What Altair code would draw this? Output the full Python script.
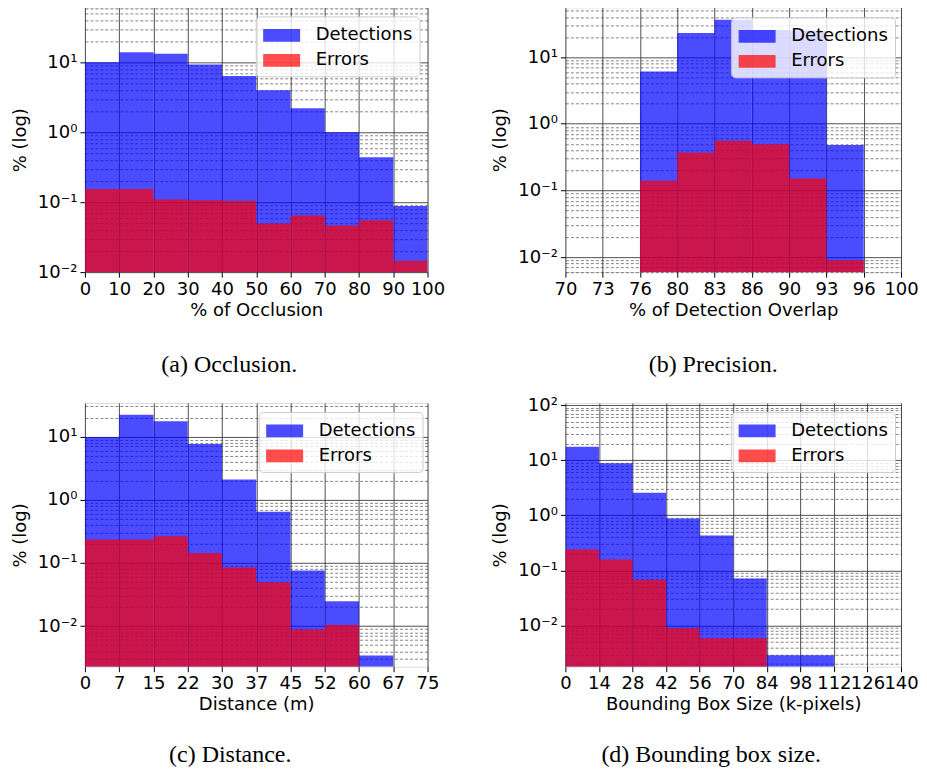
import altair as alt
import pandas as pd

FONT = "DejaVu Sans"
SERIF = "Liberation Serif"
BLUE = "#0000ff"
RED = "#ff0000"
SERIES = ["Detections", "Errors"]

# (a) Occlusion
occ_edges = [0, 10, 20, 30, 40, 50, 60, 70, 80, 90, 100]
occ_labels = ["0", "10", "20", "30", "40", "50", "60", "70", "80", "90", "100"]
occ_det = [10.0, 13.9, 13.3, 9.3, 6.4, 4.0, 2.2, 1.0, 0.44, 0.088]
occ_err = [0.155, 0.155, 0.109, 0.107, 0.105, 0.0496, 0.0645, 0.0464, 0.0553, 0.0145]

# (b) Precision
prec_edges = [70, 73.333, 76.667, 80, 83.333, 86.667, 90, 93.333, 96.667, 100]
prec_labels = ["70", "73", "76", "80", "83", "86", "90", "93", "96", "100"]
prec_det = [None, None, 6.1, 22.9, 36.3, 25.5, 25.0, 0.48, None]
prec_err = [None, None, 0.14, 0.37, 0.556, 0.495, 0.151, 0.009, None]

# (c) Distance
dist_edges = [0, 7.5, 15, 22.5, 30, 37.5, 45, 52.5, 60, 67.5, 75]
dist_labels = ["0", "7", "15", "22", "30", "37", "45", "52", "60", "67", "75"]
dist_det = [9.8, 22.2, 17.5, 7.66, 2.09, 0.647, 0.0757, 0.0248, 0.00344, None]
dist_err = [0.236, 0.236, 0.264, 0.144, 0.0844, 0.0495, 0.00886, 0.0104, None, None]

# (d) Bounding box size
bbox_edges = [0, 14, 28, 42, 56, 70, 84, 98, 112, 126, 140]
bbox_labels = ["0", "14", "28", "42", "56", "70", "84", "98", "112", "126", "140"]
bbox_det = [17.5, 8.8, 2.55, 0.87, 0.43, 0.0715, 0.0029, 0.0029, None, None]
bbox_err = [0.24, 0.158, 0.0676, 0.0089, 0.00587, 0.00587, None, None, None, None]

y_major = [0.01, 0.1, 1, 10, 100]
y_major_labels = ["10\u207b\u00b2", "10\u207b\u00b9", "10\u2070", "10\u00b9", "10\u00b2"]

# legend patch: wide rectangle, left edge on the symbol box
LEGEND_PATH = "M-1,-0.55H2.2V0.55H-1Z"


def label_expr(values, labels, tol):
    expr = "''"
    for v, l in zip(values, labels):
        expr = f"abs(datum.value - {v}) < {tol * max(abs(v), 1e-9)} ? '{l}' : ({expr})"
    return expr


def panel(edges, tick_labels, det, err, xtitle, ydom, caption, lx, ly, w, h, cap_dx, cap_off):
    rows = []
    for name, vals in zip(SERIES, [det, err]):
        for i, v in enumerate(vals):
            if v is not None:
                rows.append({"x0": edges[i], "x1": edges[i + 1], "v": v, "s": name})
    df = pd.DataFrame(rows)

    yticks = []
    k = -3
    while 10 ** k <= ydom[1] * 1.0001:
        for m in range(1, 10):
            t = m * 10 ** k
            if ydom[0] * 0.9999 <= t <= ydom[1] * 1.0001:
                yticks.append(round(t, 6))
        k += 1

    is_major = "abs(log(datum.value)/LN10 - round(log(datum.value)/LN10)) < 0.01"

    xaxis = alt.Axis(
        values=edges,
        labelExpr=label_expr(edges, tick_labels, 1e-4),
        title=xtitle,
        grid=True, gridColor="#333333", gridWidth=1, gridOpacity=0.85,
        labelFont=FONT, labelFontSize=18, labelColor="black",
        titleFont=FONT, titleFontSize=18, titleFontWeight="normal", titleColor="black",
        tickColor="black", tickSize=5, labelPadding=3, titlePadding=3,
        domain=False, labelFlush=False, labelOverlap=False,
    )
    yaxis = alt.Axis(
        values=yticks,
        labelExpr=label_expr(y_major, y_major_labels, 1e-3),
        title="% (log)",
        grid=True,
        gridColor="#333333",
        gridWidth={"condition": {"test": is_major, "value": 1}, "value": 0.8},
        gridDash={"condition": {"test": is_major, "value": []}, "value": [3, 2]},
        gridOpacity={"condition": {"test": is_major, "value": 0.85}, "value": 0.75},
        tickSize={"condition": {"test": is_major, "value": 5}, "value": 0},
        tickColor="black",
        labelFont=FONT, labelFontSize=18, labelColor="black",
        titleFont=FONT, titleFontSize=18, titleFontWeight="normal", titleColor="black",
        labelPadding=3, titlePadding=8, domain=False, labelOverlap=False, labelFlush=False,
    )

    legend = alt.Legend(
        title=None, orient="none", legendX=lx, legendY=ly, direction="vertical",
        symbolType=LEGEND_PATH, symbolSize=535, symbolOpacity=0.7, symbolStrokeWidth=0,
        labelFont=FONT, labelFontSize=18, labelColor="black", labelOffset=29,
        fillColor="rgba(255,255,255,0.8)", strokeColor="#cccccc", cornerRadius=4,
        padding=7, rowPadding=4,
    )

    chart = alt.Chart(df).mark_rect(opacity=0.7, clip=True).encode(
        x=alt.X("x0:Q", scale=alt.Scale(domain=[edges[0], edges[-1]], nice=False, zero=False), axis=xaxis),
        x2="x1:Q",
        y=alt.Y("v:Q", scale=alt.Scale(type="log", domain=ydom, nice=False), axis=yaxis),
        y2=alt.datum(ydom[0]),
        color=alt.Color("s:N", scale=alt.Scale(domain=SERIES, range=[BLUE, RED]), legend=legend),
    ).properties(
        width=w, height=h,
        title=alt.TitleParams(caption, orient="bottom", font=SERIF, fontSize=24,
                              fontWeight="normal", color="black", offset=cap_off, dx=cap_dx,
                              anchor="middle"),
    )
    return chart


a = panel(occ_edges, occ_labels, occ_det, occ_err, "% of Occlusion", [0.01, 61],
          "(a) Occlusion.", 171, 9, 343, 265, -27, 34)
b = panel(prec_edges, prec_labels, prec_det, prec_err, "% of Detection Overlap", [0.00596, 55.6],
          "(b) Precision.", 166, 10, 336, 265, -20, 34)
c = panel(dist_edges, dist_labels, dist_det, dist_err, "Distance (m)", [0.00228, 34],
          "(c) Distance.", 174, 9, 343, 264, -26, 29)
d = panel(bbox_edges, bbox_labels, bbox_det, bbox_err, "Bounding Box Size (k-pixels)", [0.00179, 109],
          "(d) Bounding box size.", 166, 9, 336, 264, -22, 29)

chart = alt.concat(
    a, b, c, d, columns=2, spacing={"row": 131, "column": 138}, bounds="flush",
).resolve_scale(
    x="independent", y="independent", color="independent"
).resolve_legend(color="independent").properties(
    padding={"top": -10, "left": 2, "right": 0, "bottom": 0}
).configure_view(stroke="black", strokeWidth=1).configure(background="white")

chart.save("out.html", embed_options={"renderer": "svg", "actions": False})
